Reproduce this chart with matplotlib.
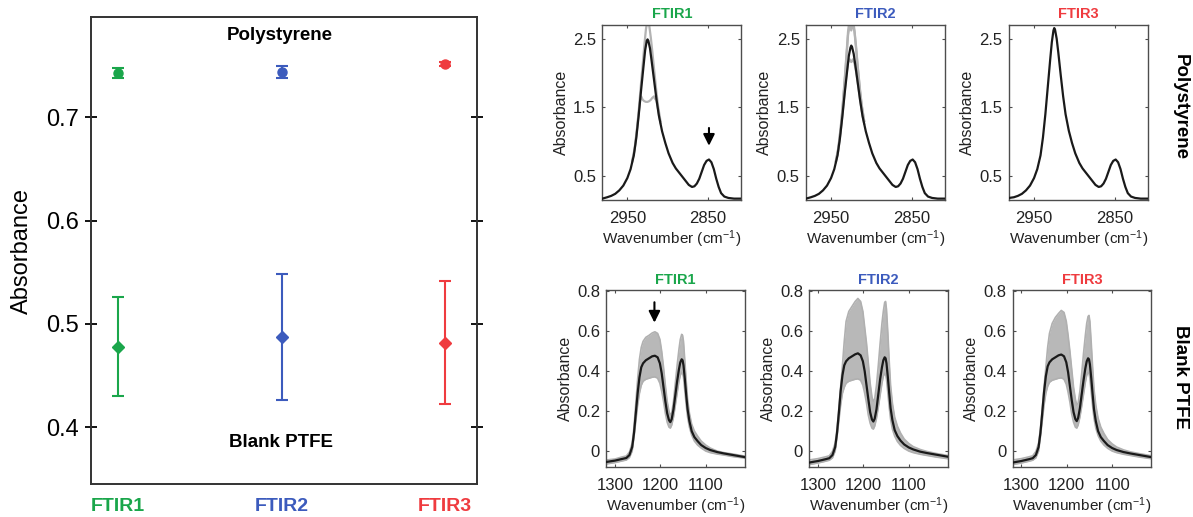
import numpy as np
import matplotlib
matplotlib.use("Agg")
import matplotlib.pyplot as plt
from matplotlib.ticker import FormatStrFormatter

plt.rcParams['font.family'] = ['Liberation Sans', 'DejaVu Sans']
plt.rcParams['mathtext.default'] = 'regular'

# ---- summary panel (mean +- sd) ----
instruments = ['FTIR1', 'FTIR2', 'FTIR3']
inst_colors = ['#1aa64b', '#3c5bbd', '#ef3b3f']
ps_mean = [0.743, 0.744, 0.752]
ps_err = [0.005, 0.006, 0.002]
ptfe_mean = [0.478, 0.487, 0.482]
ptfe_err = [0.048, 0.061, 0.060]

# ---- polystyrene spectra (C-H stretch region) ----
ps_wn = [2981, 2975, 2970, 2965, 2960, 2955, 2950, 2946, 2942, 2939, 2936, 2933,
         2930, 2928, 2926, 2925, 2924, 2922, 2920, 2917, 2914, 2911, 2907, 2903,
         2899, 2894, 2890, 2886, 2882, 2878, 2874, 2870, 2867, 2864, 2861, 2858,
         2855, 2852, 2849, 2846, 2843, 2840, 2837, 2834, 2830, 2825, 2818, 2808]
ps_black_1 = [0.17, 0.19, 0.21, 0.24, 0.29, 0.36, 0.47, 0.60, 0.80, 1.05, 1.38, 1.75,
              2.10, 2.33, 2.47, 2.49, 2.47, 2.36, 2.18, 1.90, 1.62, 1.38, 1.15, 0.98,
              0.83, 0.69, 0.61, 0.55, 0.49, 0.43, 0.37, 0.34, 0.35, 0.39, 0.46, 0.56,
              0.66, 0.72, 0.74, 0.70, 0.60, 0.46, 0.34, 0.25, 0.20, 0.18, 0.17, 0.17]
ps_black_2 = [0.17, 0.19, 0.21, 0.24, 0.29, 0.36, 0.47, 0.60, 0.80, 1.05, 1.37, 1.72,
              2.04, 2.25, 2.37, 2.40, 2.38, 2.28, 2.12, 1.86, 1.60, 1.37, 1.15, 0.98,
              0.83, 0.69, 0.61, 0.55, 0.49, 0.43, 0.37, 0.34, 0.35, 0.39, 0.46, 0.56,
              0.66, 0.72, 0.74, 0.70, 0.60, 0.46, 0.34, 0.25, 0.20, 0.18, 0.17, 0.17]
ps_black_3 = [0.18, 0.19, 0.21, 0.24, 0.29, 0.36, 0.47, 0.60, 0.80, 1.06, 1.40, 1.80,
              2.20, 2.45, 2.62, 2.655, 2.63, 2.50, 2.30, 1.97, 1.66, 1.40, 1.16, 0.98,
              0.83, 0.69, 0.61, 0.55, 0.49, 0.43, 0.37, 0.34, 0.35, 0.39, 0.46, 0.56,
              0.66, 0.72, 0.74, 0.70, 0.60, 0.46, 0.34, 0.25, 0.20, 0.18, 0.17, 0.17]

# individual replicates near the main band (elsewhere they sit under the mean)
ps_gray_wn = [2944, 2941, 2938, 2936, 2934, 2933, 2931, 2929, 2927, 2925, 2923,
              2921, 2919, 2917, 2916, 2914, 2912, 2909]
ps_gray_1 = [
    [0.72, 0.90, 1.20, 1.44, 1.72, 1.86, 2.12, 2.40, 2.64, 2.78, 2.70, 2.52, 2.30, 2.06, 1.95, 1.72, 1.52, 1.30],
    [0.71, 0.88, 1.18, 1.41, 1.62, 1.66, 1.61, 1.59, 1.58, 1.58, 1.59, 1.61, 1.64, 1.66, 1.63, 1.60, 1.47, 1.27],
]
ps_gray_2 = [
    [0.72, 0.90, 1.20, 1.45, 1.75, 1.90, 2.22, 2.55, 2.70, 2.62, 2.72, 2.60, 2.35, 2.08, 1.96, 1.72, 1.52, 1.30],
    [0.70, 0.87, 1.16, 1.38, 1.62, 1.74, 1.98, 2.15, 2.20, 2.16, 2.20, 2.14, 2.02, 1.86, 1.78, 1.60, 1.45, 1.26],
    [0.72, 0.91, 1.22, 1.47, 1.78, 1.93, 2.26, 2.60, 2.80, 2.85, 2.80, 2.62, 2.38, 2.10, 1.98, 1.74, 1.53, 1.30],
]
ps_gray_3 = []

# ---- blank PTFE spectra (C-F stretch region) ----
ptfe_wn = [1320, 1300, 1285, 1275, 1268, 1262, 1258, 1254, 1250, 1246, 1242, 1238,
           1232, 1225, 1218, 1212, 1206, 1201, 1197, 1193, 1189, 1185, 1181, 1178,
           1175, 1171, 1167, 1163, 1159, 1156, 1153, 1151, 1149, 1146, 1143, 1140,
           1136, 1131, 1125, 1118, 1110, 1100, 1090, 1075, 1060, 1040, 1015]
ptfe_black_1 = [-0.055, -0.048, -0.040, -0.035, -0.020, 0.02, 0.09, 0.19, 0.29, 0.37, 0.42, 0.44,
                0.455, 0.465, 0.475, 0.478, 0.47, 0.44, 0.39, 0.32, 0.25, 0.19, 0.155, 0.145,
                0.16, 0.21, 0.28, 0.35, 0.41, 0.445, 0.46, 0.455, 0.43, 0.36, 0.28, 0.21,
                0.15, 0.10, 0.07, 0.05, 0.03, 0.015, 0.005, -0.005, -0.012, -0.02, -0.03]
ptfe_upper_1 = [-0.045, -0.04, -0.03, -0.025, -0.005, 0.04, 0.12, 0.24, 0.36, 0.46, 0.52, 0.55,
                0.57, 0.58, 0.592, 0.598, 0.59, 0.56, 0.50, 0.42, 0.33, 0.25, 0.20, 0.18,
                0.19, 0.25, 0.34, 0.43, 0.51, 0.56, 0.585, 0.58, 0.55, 0.45, 0.35, 0.26,
                0.19, 0.135, 0.10, 0.075, 0.05, 0.03, 0.015, 0.0, -0.008, -0.015, -0.025]
ptfe_lower_1 = [-0.065, -0.058, -0.05, -0.045, -0.032, 0.0, 0.07, 0.15, 0.23, 0.29, 0.33, 0.35,
                0.36, 0.365, 0.37, 0.372, 0.365, 0.34, 0.30, 0.25, 0.19, 0.145, 0.12, 0.115,
                0.13, 0.17, 0.23, 0.29, 0.35, 0.38, 0.395, 0.39, 0.37, 0.30, 0.23, 0.17,
                0.12, 0.08, 0.05, 0.03, 0.015, 0.0, -0.008, -0.015, -0.02, -0.028, -0.035]

ptfe_black_2 = [-0.058, -0.05, -0.042, -0.036, -0.02, 0.02, 0.09, 0.19, 0.30, 0.38, 0.43, 0.45,
                0.465, 0.475, 0.485, 0.49, 0.48, 0.45, 0.40, 0.33, 0.26, 0.195, 0.158, 0.148,
                0.162, 0.21, 0.285, 0.36, 0.42, 0.455, 0.47, 0.465, 0.44, 0.37, 0.29, 0.215,
                0.155, 0.105, 0.075, 0.052, 0.033, 0.018, 0.008, -0.003, -0.01, -0.018, -0.028]
ptfe_upper_2 = [-0.045, -0.038, -0.03, -0.024, -0.002, 0.04, 0.11, 0.21, 0.32, 0.43, 0.55, 0.65,
                0.70, 0.725, 0.75, 0.765, 0.75, 0.70, 0.62, 0.54, 0.44, 0.34, 0.27, 0.25,
                0.26, 0.33, 0.43, 0.54, 0.64, 0.70, 0.745, 0.75, 0.71, 0.59, 0.45, 0.33,
                0.24, 0.17, 0.125, 0.09, 0.06, 0.038, 0.022, 0.008, -0.002, -0.012, -0.022]
ptfe_lower_2 = [-0.068, -0.06, -0.052, -0.046, -0.034, 0.0, 0.07, 0.15, 0.23, 0.29, 0.32, 0.34,
                0.35, 0.355, 0.36, 0.362, 0.355, 0.33, 0.29, 0.24, 0.18, 0.14, 0.115, 0.11,
                0.125, 0.165, 0.22, 0.28, 0.34, 0.375, 0.39, 0.385, 0.36, 0.29, 0.22, 0.16,
                0.11, 0.075, 0.048, 0.028, 0.013, 0.0, -0.008, -0.016, -0.022, -0.03, -0.038]

ptfe_black_3 = [-0.058, -0.05, -0.042, -0.036, -0.02, 0.02, 0.09, 0.19, 0.295, 0.375, 0.425, 0.445,
                0.46, 0.47, 0.48, 0.484, 0.475, 0.445, 0.395, 0.325, 0.255, 0.195, 0.16, 0.15,
                0.165, 0.215, 0.285, 0.355, 0.415, 0.45, 0.465, 0.46, 0.435, 0.365, 0.285, 0.21,
                0.15, 0.10, 0.07, 0.05, 0.03, 0.015, 0.005, -0.005, -0.012, -0.02, -0.03]
ptfe_upper_3 = [-0.045, -0.038, -0.03, -0.024, -0.002, 0.04, 0.11, 0.21, 0.32, 0.42, 0.52, 0.59,
                0.64, 0.67, 0.69, 0.705, 0.695, 0.65, 0.58, 0.50, 0.41, 0.32, 0.26, 0.23,
                0.24, 0.30, 0.39, 0.49, 0.58, 0.64, 0.675, 0.68, 0.65, 0.54, 0.42, 0.31,
                0.23, 0.165, 0.12, 0.088, 0.058, 0.036, 0.02, 0.006, -0.004, -0.013, -0.023]
ptfe_lower_3 = [-0.068, -0.06, -0.052, -0.046, -0.034, 0.0, 0.07, 0.15, 0.23, 0.29, 0.325, 0.345,
                0.355, 0.36, 0.365, 0.367, 0.36, 0.335, 0.295, 0.245, 0.185, 0.145, 0.12, 0.115,
                0.13, 0.17, 0.225, 0.285, 0.345, 0.38, 0.395, 0.39, 0.365, 0.295, 0.225, 0.165,
                0.115, 0.078, 0.05, 0.03, 0.014, 0.0, -0.008, -0.016, -0.022, -0.03, -0.038]

# arrows marking the bands used in the summary panel: (wavenumber, tail, head)
ps_arrow = (2849, 1.24, 0.90)
ptfe_arrow = (1213, 0.76, 0.63)

GRAY = '#b3b3b3'
SPINE = '#4d4d4d'
TXT = '#222222'

W, H = 1193, 517
fig = plt.figure(figsize=(W / 100, H / 100), dpi=100)


def rect(l, t, r, b):
    return [l / W, 1 - b / H, (r - l) / W, (b - t) / H]


# ---------------- summary panel ----------------
ax = fig.add_axes(rect(90.7, 17.3, 477.3, 484))
xpos = np.arange(1, len(instruments) + 1)
for i in range(len(instruments)):
    ax.errorbar(xpos[i], ps_mean[i], yerr=ps_err[i], fmt='o', color=inst_colors[i],
                ms=6.5, capsize=4, elinewidth=1.5, capthick=1.5)
    ax.errorbar(xpos[i], ptfe_mean[i], yerr=ptfe_err[i], fmt='D', color=inst_colors[i],
                ms=6.5, capsize=4, elinewidth=1.5, capthick=1.5)
ax.set_xlim(0.831, 3.198)
ax.set_ylim(0.345, 0.797)
ax.set_yticks([0.4, 0.5, 0.6, 0.7])
ax.set_xticks(xpos)
ax.set_xticklabels(instruments, fontsize=14, fontweight='bold')
for lab, c in zip(ax.get_xticklabels(), inst_colors):
    lab.set_color(c)
ax.tick_params(axis='x', length=0, pad=10)
ax.tick_params(axis='y', direction='inout', length=8.5, width=1.3, labelsize=17,
               right=True, pad=4)
ax.set_ylabel('Absorbance', fontsize=17, labelpad=10)
for s in ax.spines.values():
    s.set_linewidth(1.4)
    s.set_color('#333333')
ax.text(0.49, 0.962, 'Polystyrene', transform=ax.transAxes, ha='center', va='center',
        fontsize=13.5, fontweight='bold')
ax.text(0.492, 0.088, 'Blank PTFE', transform=ax.transAxes, ha='center', va='center',
        fontsize=13.5, fontweight='bold')


def style_small(a):
    for s in a.spines.values():
        s.set_linewidth(1.0)
        s.set_color(SPINE)
    a.tick_params(direction='in', length=2.5, width=0.8, top=True, right=True,
                  labelsize=12, color=SPINE, labelcolor=TXT)
    a.tick_params(axis='x', pad=8)
    a.tick_params(axis='y', pad=4.5)
    a.set_ylabel('Absorbance', fontsize=11.5, color=TXT, labelpad=3)
    a.set_xlabel('Wavenumber (cm$^{-1}$)', fontsize=11, color=TXT, labelpad=2)


def add_arrow(a, arrow):
    a.annotate('', xy=(arrow[0], arrow[2]), xytext=(arrow[0], arrow[1]),
               arrowprops=dict(arrowstyle='-|>', color='black', lw=1.5,
                               mutation_scale=17))


# ---------------- polystyrene spectra ----------------
top_lefts = [602.3, 806, 1009]
ps_blacks = [ps_black_1, ps_black_2, ps_black_3]
ps_grays = [ps_gray_1, ps_gray_2, ps_gray_3]
for i in range(3):
    a = fig.add_axes(rect(top_lefts[i], 25, top_lefts[i] + 139, 200))
    for g in ps_grays[i]:
        a.plot(ps_gray_wn, g, color=GRAY, lw=1.6, zorder=2)
    a.plot(ps_wn, ps_blacks[i], color='#1a1a1a', lw=1.6, zorder=3)
    a.set_xlim(2981, 2809)
    a.set_ylim(0.15, 2.7)
    a.set_xticks([2950, 2850])
    a.set_yticks([0.5, 1.5, 2.5])
    a.yaxis.set_major_formatter(FormatStrFormatter('%g'))
    style_small(a)
    a.set_title(instruments[i], color=inst_colors[i], fontsize=10.5,
                fontweight='bold', pad=5)
    if i == 0:
        add_arrow(a, ps_arrow)

# ---------------- blank PTFE spectra ----------------
bot_lefts = [606.3, 809.3, 1012.7]
ptfe_blacks = [ptfe_black_1, ptfe_black_2, ptfe_black_3]
ptfe_uppers = [ptfe_upper_1, ptfe_upper_2, ptfe_upper_3]
ptfe_lowers = [ptfe_lower_1, ptfe_lower_2, ptfe_lower_3]
for i in range(3):
    a = fig.add_axes(rect(bot_lefts[i], 289.5, bot_lefts[i] + 138.5, 467))
    a.fill_between(ptfe_wn, ptfe_lowers[i], ptfe_uppers[i], color='#b8b8b8', lw=0, zorder=1)
    a.plot(ptfe_wn, ptfe_uppers[i], color='#b0b0b0', lw=1.2, zorder=2)
    a.plot(ptfe_wn, ptfe_lowers[i], color='#b0b0b0', lw=1.2, zorder=2)
    a.plot(ptfe_wn, ptfe_blacks[i], color='#1a1a1a', lw=1.6, zorder=3)
    a.set_xlim(1319, 1014)
    a.set_ylim(-0.08, 0.81)
    a.set_xticks([1300, 1200, 1100])
    a.set_yticks([0, 0.2, 0.4, 0.6, 0.8])
    a.yaxis.set_major_formatter(FormatStrFormatter('%g'))
    style_small(a)
    a.set_title(instruments[i], color=inst_colors[i], fontsize=10.5,
                fontweight='bold', pad=4)
    if i == 0:
        add_arrow(a, ptfe_arrow)

fig.text(1180 / W, 1 - 107 / H, 'Polystyrene', rotation=270, ha='center', va='center',
         fontsize=13.5, fontweight='bold')
fig.text(1180 / W, 1 - 377 / H, 'Blank PTFE', rotation=270, ha='center', va='center',
         fontsize=13.5, fontweight='bold')

fig.savefig('out.png', dpi=100)
